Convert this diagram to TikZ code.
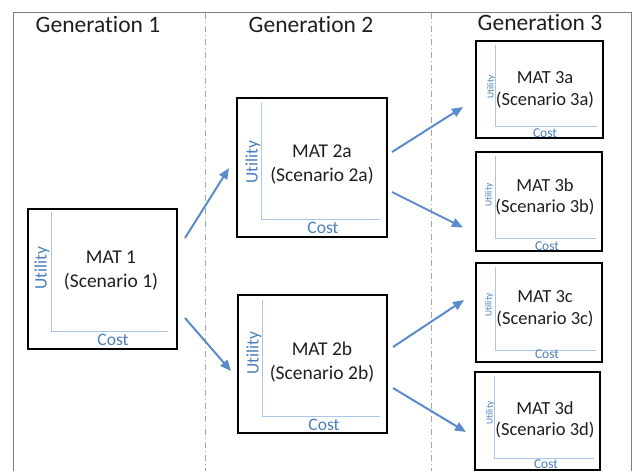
\documentclass[tikz,border=0pt]{standalone}
\usepackage{fontspec}
\setmainfont[Ligatures=NoCommon]{Carlito}
\usetikzlibrary{calc,arrows.meta}
\definecolor{axisblue}{HTML}{A9C6E8}
\definecolor{txtblue}{HTML}{4A7EBB}
\definecolor{arrowblue}{HTML}{5A8CCB}
\definecolor{framegray}{HTML}{7F7F7F}
\definecolor{divgray}{HTML}{A6A6A6}
\definecolor{txtdark}{HTML}{1F1F1F}
\begin{document}
\begin{tikzpicture}[x=1pt,y=-1pt,
  matbox/.style={draw=black, line width=2pt, inner sep=0pt, outer sep=0pt},
  axisline/.style={draw=axisblue, line width=1pt},
  utilbig/.style={text=txtblue, inner sep=0pt, rotate=90, font=\fontsize{17.5}{17.5}\selectfont},
  utilsmall/.style={text=txtblue, inner sep=0pt, rotate=90, font=\fontsize{9.5}{9.5}\selectfont},
  costbig/.style={text=txtblue, inner sep=0pt, font=\fontsize{17.5}{17.5}\selectfont},
  costsmall/.style={text=txtblue, inner sep=0pt, font=\fontsize{13.5}{13.5}\selectfont},
  matlabel/.style={text=txtdark, inner sep=0pt, align=center, font=\fontsize{19.5}{24}\selectfont},
  matlabelsmall/.style={text=txtdark, inner sep=0pt, align=center, font=\fontsize{18.5}{21.5}\selectfont},
  genhead/.style={text=txtdark, inner sep=0pt, font=\fontsize{23.5}{23.5}\selectfont},
  flow/.style={draw=arrowblue, line width=2pt, -{Triangle[length=11pt,width=9pt]}},
  divider/.style={draw=divgray, line width=0.8pt, dash pattern=on 6pt off 3pt on 1pt off 3pt},
]
\useasboundingbox (0,0) rectangle (634,471);
% frame
\draw[framegray, line width=1pt] (13,471) -- (13,12) -- (631,12) -- (631,471);
% dividers
\coordinate (d1t) at (205,13);
\coordinate (d1b) at (205,471);
\coordinate (d2t) at (431,13);
\coordinate (d2b) at (431,471);
\draw[divider] (d1t) -- (d1b);
\draw[divider] (d2t) -- (d2b);
% headers
\node[genhead] (g1) at (98,25) {Generation 1};
\node[genhead] (g2) at (311,25) {Generation 2};
\node[genhead] (g3) at (540,23) {Generation 3};

% boxes
\node[matbox, minimum width=149pt, minimum height=140pt] (m1) at (102.5,279) {};
\node[matbox, minimum width=150pt, minimum height=139pt] (m2a) at (312,167.5) {};
\node[matbox, minimum width=149pt, minimum height=138pt] (m2b) at (312.5,364) {};
\node[matbox, minimum width=127pt, minimum height=97pt] (m3a) at (539.5,89.5) {};
\node[matbox, minimum width=126pt, minimum height=99pt] (m3b) at (539,201) {};
\node[matbox, minimum width=126pt, minimum height=99pt] (m3c) at (539,312.5) {};
\node[matbox, minimum width=125pt, minimum height=98pt] (m3d) at (537.5,421) {};

% axes
\draw[axisline] ($(m1.north west)+(23,3)$) |- ($(m1.south east)+(-9,-18)$);
\draw[axisline] ($(m2a.north west)+(24,5)$) |- ($(m2a.south east)+(-7,-18)$);
\draw[axisline] ($(m2b.north west)+(24,5)$) |- ($(m2b.south east)+(-7,-17)$);
\draw[axisline] ($(m3a.north west)+(19,4)$) |- ($(m3a.south east)+(-6,-12)$);
\draw[axisline] ($(m3b.north west)+(19,4)$) |- ($(m3b.south east)+(-6,-12)$);
\draw[axisline] ($(m3c.north west)+(19,4)$) |- ($(m3c.south east)+(-6,-12)$);
\draw[axisline] ($(m3d.north west)+(19,4)$) |- ($(m3d.south east)+(-6,-12)$);

% labels
\node[matlabel] (t1) at (111,270.5) {MAT 1\\(Scenario 1)};
\node[utilbig] (u1) at (42,268) {Utility};
\node[costbig] (c1) at (113,340) {Cost};

\node[matlabel] (t2a) at (322,165) {MAT 2a\\(Scenario 2a)};
\node[utilbig] (u2a) at (253,162) {Utility};
\node[costbig] (c2a) at (323,228) {Cost};

\node[matlabel] (t2b) at (322,362) {MAT 2b\\(Scenario 2b)};
\node[utilbig] (u2b) at (254,353) {Utility};
\node[costbig] (c2b) at (324,425) {Cost};

\node[matlabelsmall] (t3a) at (545,90) {MAT 3a\\(Scenario 3a)};
\node[utilsmall] (u3a) at (491,87) {Utility};
\node[costsmall] (c3a) at (545,133) {Cost};

\node[matlabelsmall] (t3b) at (545,197) {MAT 3b\\(Scenario 3b)};
\node[utilsmall] (u3b) at (489,195) {Utility};
\node[costsmall] (c3b) at (547,246) {Cost};

\node[matlabelsmall] (t3c) at (545,309) {MAT 3c\\(Scenario 3c)};
\node[utilsmall] (u3c) at (489,305) {Utility};
\node[costsmall] (c3c) at (547,354) {Cost};

\node[matlabelsmall] (t3d) at (545,420) {MAT 3d\\(Scenario 3d)};
\node[utilsmall] (u3d) at (490,413) {Utility};
\node[costsmall] (c3d) at (546,464) {Cost};

% arrows
\draw[flow] ($(m1.north east)+(8,29)$) -- ($(m2a.north west)+(-8,70)$);
\draw[flow] ($(m1.north east)+(8,109)$) -- ($(m2b.north west)+(-7,76)$);
\draw[flow] ($(m2a.north east)+(5,54)$) -- ($(m3a.north west)+(-13,66)$);
\draw[flow] ($(m2a.north east)+(5,94)$) -- ($(m3b.north west)+(-13,76)$);
\draw[flow] ($(m2b.north east)+(6,52)$) -- ($(m3c.north west)+(-12,37)$);
\draw[flow] ($(m2b.north east)+(6,93)$) -- ($(m3d.north west)+(-9,60)$);
\end{tikzpicture}
\end{document}
